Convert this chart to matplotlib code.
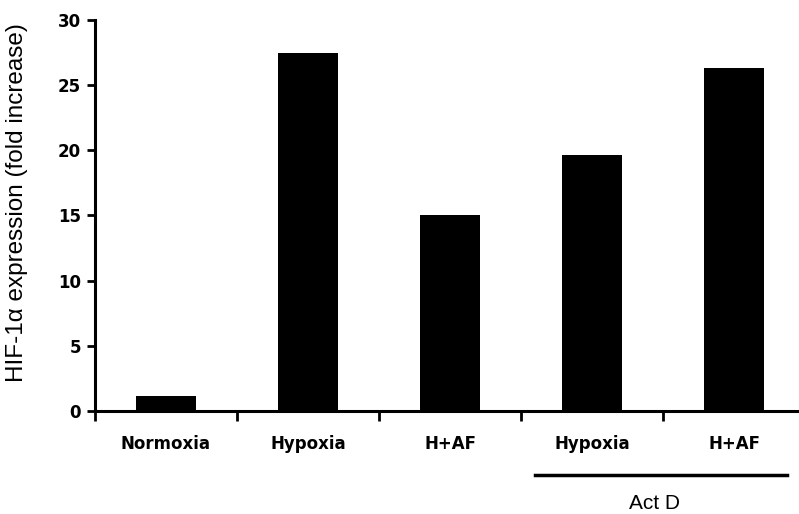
import matplotlib
matplotlib.use("Agg")
import matplotlib.pyplot as plt
import matplotlib.transforms as mtransforms

# Data
categories = ['Normoxia', 'Hypoxia', 'H+AF', 'Hypoxia', 'H+AF']
values = [1.15, 27.4, 15.0, 19.65, 26.3]
yticks = [0, 5, 10, 15, 20, 25, 30]

fig = plt.figure(figsize=(7.99, 5.14), dpi=100)
W, H = 799, 514
ax = fig.add_axes([95 / W, (H - 411) / H, 710 / W, 391.5 / H])

x = list(range(len(categories)))
ax.bar(x, values, width=0.42, color='black')

ax.set_xlim(-0.5, len(categories) - 0.5)
ax.set_ylim(0, 30)

# spines
for s in ['top', 'right']:
    ax.spines[s].set_visible(False)
for s in ['left', 'bottom']:
    ax.spines[s].set_linewidth(2.2)

# y ticks
ax.set_yticks(yticks)
ax.set_yticklabels([str(v) for v in yticks], fontfamily='DejaVu Sans',
                   fontweight='bold', fontsize=12)
ax.tick_params(axis='y', direction='out', length=6, width=2, pad=4)

# x ticks: labels at centres, tick marks at boundaries
ax.set_xticks(x)
ax.set_xticklabels(categories, fontfamily='DejaVu Sans', fontweight='bold',
                   fontsize=12)
ax.tick_params(axis='x', which='major', length=0, pad=17)
ax.set_xticks([i - 0.5 for i in range(len(categories) + 1)], minor=True)
ax.tick_params(axis='x', which='minor', direction='out', length=7, width=2)

ax.set_ylabel('HIF-1\u03b1 expression (fold increase)', fontfamily='Liberation Sans',
              fontsize=17.5)
ax.yaxis.set_label_coords(-0.094, 0.533)

# Act D bracket under the last two groups
trans = mtransforms.blended_transform_factory(ax.transData, ax.transAxes)
ax.plot([2.60, 4.37], [-0.163, -0.163], color='black', lw=2.5,
        transform=trans, clip_on=False)
ax.text(3.44, -0.236, 'Act D', transform=trans, ha='center', va='center',
        fontfamily='Liberation Sans', fontsize=15)

fig.savefig('out.png', dpi=100)
